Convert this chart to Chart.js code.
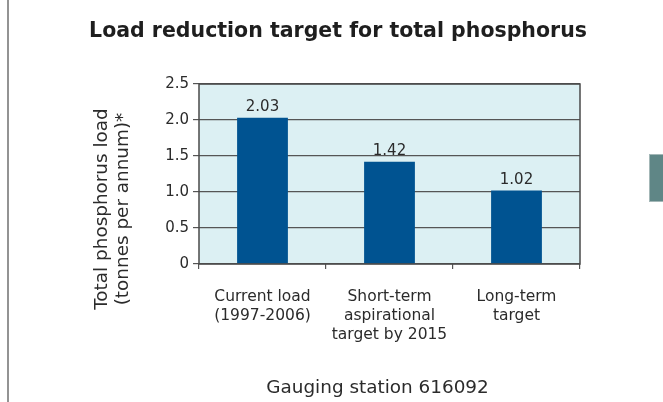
<!DOCTYPE html>
<html>
<head>
<meta charset="utf-8">
<script src="https://cdn.jsdelivr.net/npm/chart.js@4/dist/chart.umd.min.js"></script>
<style>
  body { margin: 0; background: #fff; }
  #wrap { position: relative; width: 663px; height: 402px; }
  #edge { position: absolute; left: 7px; top: 0; width: 2px; height: 402px; background: #939393; }
  #tab { position: absolute; left: 649px; top: 154px; width: 14px; height: 48px; background: #5f8686; box-sizing: border-box; border: 1px solid #a3b7b7; border-right: none; }
</style>
</head>
<body>
<div id="wrap">
  <canvas id="chart" width="663" height="402"></canvas>
  <div id="edge"></div>
  <div id="tab"></div>
</div>
<script>
const font = "DejaVu Sans";

const chartTitle = "Load reduction target for total phosphorus";
const yTitle = ["Total phosphorus load", "(tonnes per annum)*"];
const footerText = "Gauging station 616092";

const categories = [
  ["Current load", "(1997-2006)"],
  ["Short-term", "aspirational", "target by 2015"],
  ["Long-term", "target"]
];
const loadValues = [2.03, 1.42, 1.02];
const valueLabels = ["2.03", "1.42", "1.02"];
const yTicks = [0, 0.5, 1, 1.5, 2, 2.5];
const yTickLabels = ["0", "0.5", "1.0", "1.5", "2.0", "2.5"];

// plot background + frame, value labels and the free text
const decor = {
  id: "decor",
  beforeDraw(chart) {
    const { ctx, chartArea: a } = chart;
    ctx.save();
    ctx.fillStyle = "#dcf0f3";
    ctx.fillRect(a.left, a.top, a.right - a.left, a.bottom - a.top);
    ctx.restore();
  },
  afterDatasetsDraw(chart) {
    const { ctx, chartArea: a } = chart;
    ctx.save();
    ctx.strokeStyle = "#4a4a4a";
    ctx.lineWidth = 1.5;
    ctx.strokeRect(a.left, a.top, a.right - a.left, a.bottom - a.top);

    ctx.fillStyle = "#2b2b2b";
    ctx.font = "15px '" + font + "'";
    ctx.textAlign = "center";
    ctx.textBaseline = "alphabetic";
    chart.getDatasetMeta(0).data.forEach((bar, i) => {
      ctx.fillText(valueLabels[i], bar.x, bar.y - 7);
    });
    ctx.restore();
  },
  afterDraw(chart) {
    const ctx = chart.ctx;
    ctx.save();
    ctx.fillStyle = "#1e1e1e";
    ctx.textAlign = "center";
    ctx.textBaseline = "alphabetic";
    ctx.font = "bold 20.5px '" + font + "'";
    ctx.fillText(chartTitle, 338, 37);

    ctx.fillStyle = "#2b2b2b";
    ctx.font = "18.4px '" + font + "'";
    ctx.fillText(footerText, 377.5, 393);

    ctx.translate(0, 209);
    ctx.rotate(-Math.PI / 2);
    ctx.fillText(yTitle[0], 0, 107);
    ctx.fillText(yTitle[1], 0, 128);
    ctx.restore();
  }
};

new Chart(document.getElementById("chart"), {
  type: "bar",
  data: {
    labels: categories,
    datasets: [{
      data: loadValues,
      backgroundColor: "#005391",
      barPercentage: 0.5,
      categoryPercentage: 0.8
    }]
  },
  options: {
    responsive: false,
    animation: false,
    layout: { padding: { top: 84, right: 83, left: 0, bottom: 0 } },
    plugins: {
      legend: { display: false },
      tooltip: { enabled: false }
    },
    scales: {
      x: {
        grid: { offset: true, drawOnChartArea: false, tickLength: 5, color: "#555", lineWidth: 1.2 },
        border: { display: false },
        ticks: {
          color: "#2b2b2b",
          font: { family: font, size: 15.5, lineHeight: 1.2 },
          padding: 19,
          maxRotation: 0,
          autoSkip: false
        },
        afterFit(scale) { scale.height = 138; }
      },
      y: {
        min: 0,
        max: 2.5,
        afterBuildTicks(scale) { scale.ticks = yTicks.map(v => ({ value: v })); },
        grid: { color: "#555", lineWidth: 1.2, tickLength: 6 },
        border: { display: false },
        ticks: {
          color: "#2b2b2b",
          font: { family: font, size: 15 },
          padding: 4,
          callback: (v, i) => yTickLabels[i]
        },
        afterFit(scale) { scale.width = 199; }
      }
    }
  },
  plugins: [decor]
});
</script>
</body>
</html>
